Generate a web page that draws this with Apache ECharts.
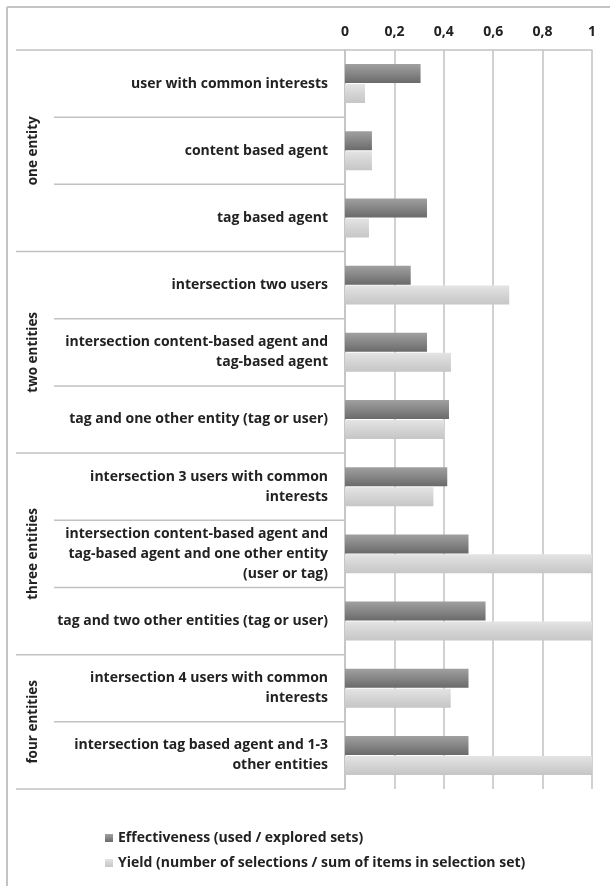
<!DOCTYPE html>
<html>
<head>
<meta charset="utf-8">
<script src="https://cdn.jsdelivr.net/npm/echarts@6/dist/echarts.min.js"></script>
<style>
html,body{margin:0;padding:0;background:#fff;}
#chart{width:610px;height:886px;}
</style>
</head>
<body>
<div id="chart"></div>
<script>
const categories = [
  'user with common interests',
  'content based agent',
  'tag based agent',
  'intersection two users',
  'intersection content-based agent and\ntag-based agent',
  'tag and one other entity (tag or user)',
  'intersection 3 users with common\ninterests',
  'intersection content-based agent and\ntag-based agent and one other entity\n(user or tag)',
  'tag and two other entities (tag or user)',
  'intersection 4 users with common\ninterests',
  'intersection tag based agent and 1-3\nother entities'
];
const groupNames = ['one entity', 'two entities', 'three entities', 'four entities'];
const groupSizes = [3, 3, 3, 2];
const effectiveness = [0.306, 0.109, 0.332, 0.266, 0.332, 0.421, 0.414, 0.5, 0.569, 0.5, 0.5];
const yieldValues = [0.081, 0.109, 0.097, 0.665, 0.429, 0.401, 0.358, 1.0, 1.0, 0.428, 1.0];
const tickLabels = ['0', '0,2', '0,4', '0,6', '0,8', '1'];
const seriesNames = ['Effectiveness (used / explored sets)', 'Yield (number of selections / sum of items in selection set)'];

const FONT = 'Open Sans';
const TXT = '#222222';
const LINE = '#c2c2c2';

const chart = echarts.init(document.getElementById('chart'), null, {renderer: 'canvas'});

const darkGrad = new echarts.graphic.LinearGradient(0, 0, 0, 1, [
  {offset: 0, color: '#a0a0a0'}, {offset: 0.5, color: '#868686'}, {offset: 1, color: '#6a6a6a'}
]);
const lightGrad = new echarts.graphic.LinearGradient(0, 0, 0, 1, [
  {offset: 0, color: '#e4e4e4'}, {offset: 0.5, color: '#d4d4d4'}, {offset: 1, color: '#c6c6c6'}
]);

const option = {
  animation: false,
  backgroundColor: '#fff',
  grid: {left: 345, right: 18, top: 50, bottom: 97, containLabel: false},
  xAxis: {
    type: 'value', position: 'top', min: 0, max: 1, interval: 0.2,
    axisLine: {show: true, lineStyle: {color: LINE, width: 1.5}},
    axisTick: {show: false},
    splitLine: {show: true, lineStyle: {color: LINE, width: 1.5}},
    axisLabel: {
      margin: 11, fontFamily: FONT, fontWeight: 'bold', fontSize: 14, color: TXT,
      formatter: v => tickLabels[Math.round(v / 0.2)]
    }
  },
  yAxis: {
    type: 'category', inverse: true, data: categories,
    axisLine: {show: true, lineStyle: {color: LINE, width: 1.5}},
    axisTick: {show: false},
    splitLine: {show: false},
    axisLabel: {
      margin: 17, fontFamily: FONT, fontWeight: 'bold', fontSize: 14, color: TXT,
      lineHeight: 20, align: 'right', interval: 0
    }
  },
  legend: {
    orient: 'vertical', left: 100, top: 826, itemWidth: 8, itemHeight: 8, itemGap: 11,
    icon: 'rect',
    textStyle: {fontFamily: FONT, fontWeight: 'bold', fontSize: 14, color: TXT},
    data: seriesNames
  },
  series: [
    {
      name: seriesNames[0], type: 'bar', data: effectiveness, barWidth: 19, barGap: '5%',
      itemStyle: {color: darkGrad, shadowBlur: 3, shadowOffsetX: 1, shadowOffsetY: 2, shadowColor: 'rgba(0,0,0,0.25)'}
    },
    {
      name: seriesNames[1], type: 'bar', data: yieldValues, barWidth: 19, barGap: '5%',
      itemStyle: {color: lightGrad, shadowBlur: 3, shadowOffsetX: 1, shadowOffsetY: 2, shadowColor: 'rgba(0,0,0,0.2)'}
    }
  ]
};
chart.setOption(option);

// Separator lines and group labels positioned from the category axis
const c0 = chart.convertToPixel({yAxisIndex: 0}, 0);
const c1 = chart.convertToPixel({yAxisIndex: 0}, 1);
const band = c1 - c0;
const axisX = chart.convertToPixel({xAxisIndex: 0}, 0);
const edge = i => c0 - band / 2 + i * band;
const graphics = [];
graphics.push({type: 'line', shape: {x1: 7, y1: 7, x2: 612, y2: 7}, style: {stroke: '#c4c4c4', lineWidth: 2}});
graphics.push({type: 'line', shape: {x1: 7, y1: 7, x2: 7, y2: 890}, style: {stroke: '#c4c4c4', lineWidth: 2}});
graphics.push({type: 'line', shape: {x1: 16, y1: edge(0), x2: axisX, y2: edge(0)}, style: {stroke: LINE, lineWidth: 1.5}});
let idx = 0;
const groupStarts = new Set();
groupSizes.forEach((s, g) => {
  groupStarts.add(idx);
  const top = edge(idx), bottom = edge(idx + s);
  graphics.push({
    type: 'text', x: 33, y: (top + bottom) / 2, rotation: Math.PI / 2,
    style: {text: groupNames[g], fontFamily: FONT, fontWeight: 'bold', fontSize: 13.5, fill: TXT, align: 'center', verticalAlign: 'middle'}
  });
  idx += s;
});
groupStarts.add(categories.length);
for (let i = 1; i <= categories.length; i++) {
  const x1 = groupStarts.has(i) ? 16 : 54;
  const y = edge(i);
  graphics.push({type: 'line', shape: {x1: x1, y1: y, x2: axisX, y2: y}, style: {stroke: LINE, lineWidth: 1.5}});
}
chart.setOption({graphic: graphics});
</script>
</body>
</html>
